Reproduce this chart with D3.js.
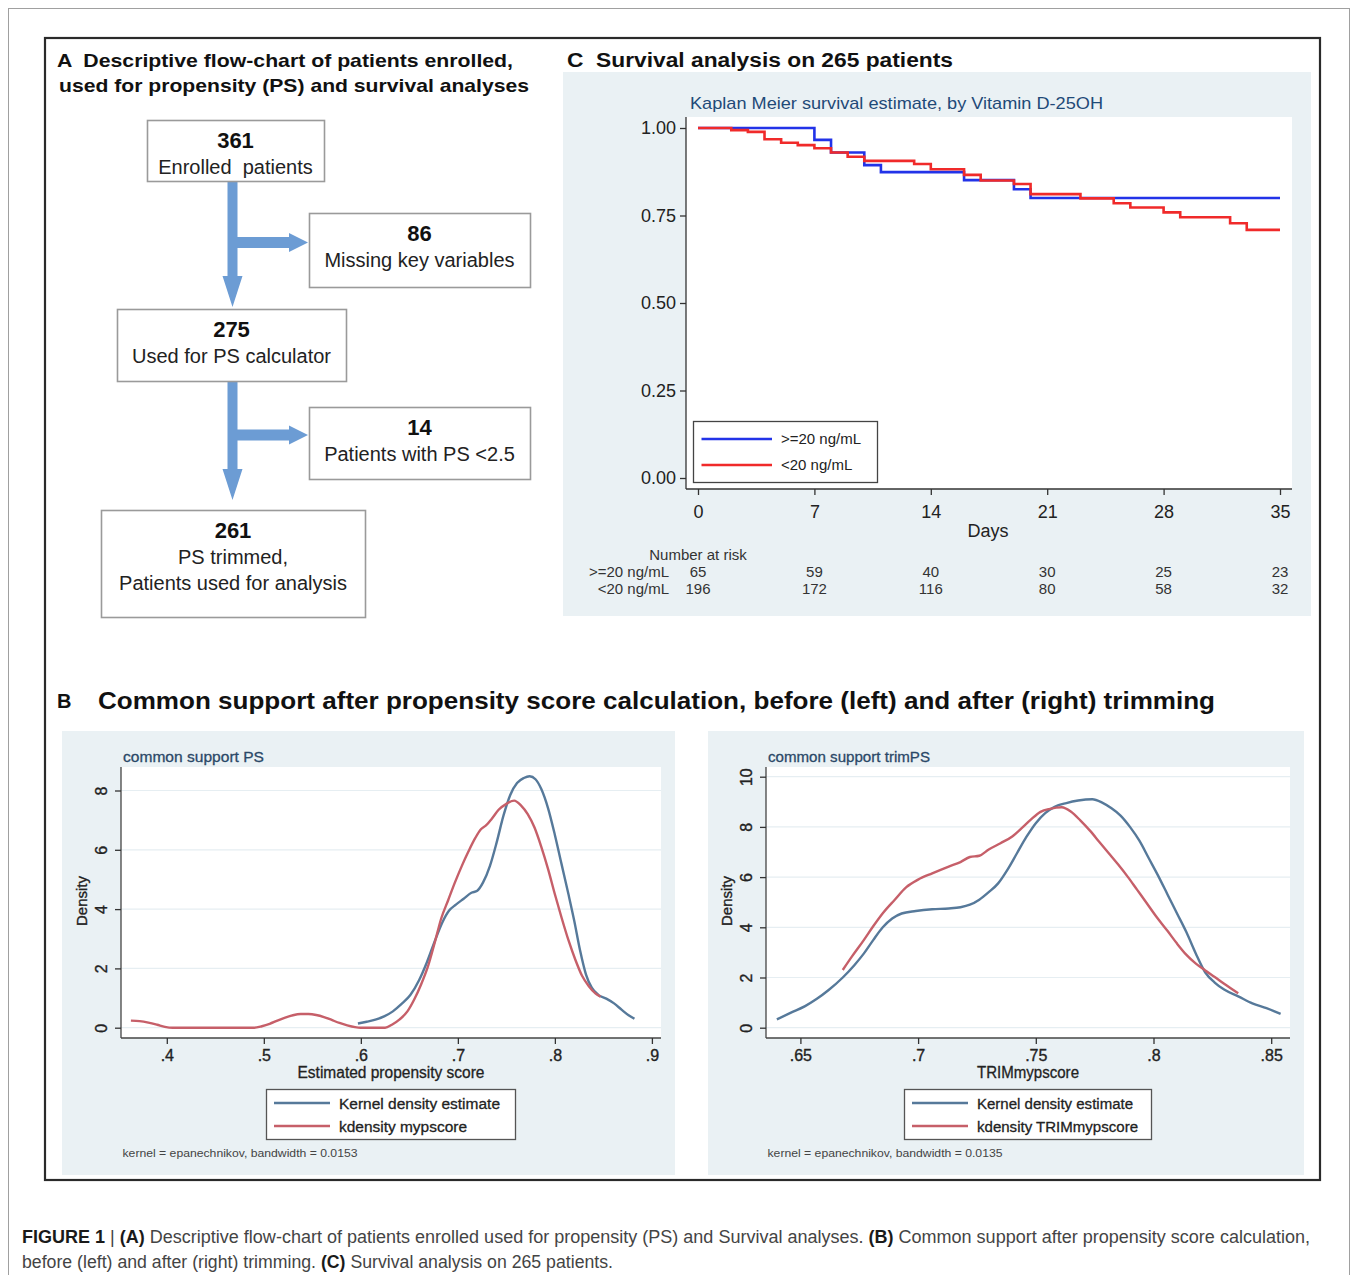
<!DOCTYPE html>
<html>
<head>
<meta charset="utf-8">
<title>Figure 1</title>
<style>
  body { margin: 0; background: #fff; }
  svg { display: block; }
  text { font-family: "Liberation Sans", Arial, Helvetica, sans-serif; }
</style>
</head>
<body>
<svg width="1358" height="1275"></svg>
<script src="https://cdn.jsdelivr.net/npm/d3@7"></script>
<script>
// ---- data ----
const flowCounts = [361, 86, 275, 14, 261]
const flowLabels = [["Enrolled  patients"], ["Missing key variables"], ["Used for PS calculator"],
  ["Patients with PS <2.5"], ["PS trimmed,", "Patients used for analysis"]]

const kmGroups = [">=20 ng/mL", "<20 ng/mL"]
const kmHigh = [[0, 1], [7, 0.966], [8, 0.930], [10, 0.894], [11, 0.874], [16, 0.851], [19, 0.825], [20, 0.80], [35, 0.80]]
const kmLow = [[0, 1], [2, 0.994], [3, 0.989], [4, 0.968], [5, 0.958], [6, 0.951], [7, 0.942], [8, 0.930],
  [9, 0.918], [10, 0.906], [13, 0.897], [14, 0.882], [16, 0.866], [17, 0.850], [19, 0.840], [20, 0.811],
  [23, 0.799], [25, 0.785], [26, 0.773], [28, 0.759], [29, 0.745], [32, 0.728], [33, 0.709], [35, 0.709]]
const kmDays = [0, 7, 14, 21, 28, 35]
const kmSurvTicks = [0, 0.25, 0.5, 0.75, 1]
const riskHigh = [65, 59, 40, 30, 25, 23]
const riskLow = [196, 172, 116, 80, 58, 32]

const psKernel = [[0.597, 0.14], [0.606, 0.2], [0.615, 0.27], [0.624, 0.38], [0.633, 0.55], [0.642, 0.8],
  [0.651, 1.1], [0.66, 1.6], [0.668, 2.2], [0.676, 2.9], [0.684, 3.55], [0.691, 3.95], [0.698, 4.15],
  [0.706, 4.35], [0.714, 4.55], [0.72, 4.62], [0.726, 4.9], [0.733, 5.45], [0.74, 6.25], [0.747, 7.15],
  [0.754, 7.85], [0.761, 8.25], [0.768, 8.42], [0.774, 8.48], [0.78, 8.38], [0.786, 8.05], [0.793, 7.4],
  [0.80, 6.5], [0.807, 5.5], [0.814, 4.5], [0.82, 3.6], [0.826, 2.6], [0.832, 1.8], [0.838, 1.35],
  [0.845, 1.1], [0.853, 0.98], [0.861, 0.82], [0.869, 0.6], [0.876, 0.42], [0.882, 0.3]]
const psScore = [[0.363, 0.24], [0.372, 0.22], [0.381, 0.17], [0.39, 0.1], [0.398, 0.03], [0.406, 0],
  [0.49, 0], [0.498, 0.05], [0.506, 0.13], [0.514, 0.24], [0.522, 0.34], [0.53, 0.42], [0.538, 0.46],
  [0.546, 0.46], [0.554, 0.43], [0.562, 0.36], [0.57, 0.26], [0.578, 0.16], [0.586, 0.08], [0.594, 0.02],
  [0.6, 0], [0.625, 0], [0.632, 0.1], [0.64, 0.28], [0.648, 0.55], [0.655, 0.95], [0.662, 1.45],
  [0.669, 2.05], [0.676, 2.85], [0.683, 3.7], [0.69, 4.3], [0.697, 4.9], [0.704, 5.45], [0.711, 5.95],
  [0.718, 6.4], [0.724, 6.7], [0.729, 6.82], [0.735, 7.05], [0.742, 7.35], [0.75, 7.55], [0.758, 7.66],
  [0.765, 7.5], [0.772, 7.2], [0.779, 6.75], [0.786, 6.1], [0.793, 5.35], [0.80, 4.5], [0.807, 3.7],
  [0.814, 2.95], [0.821, 2.3], [0.828, 1.75], [0.835, 1.4], [0.842, 1.15], [0.847, 1.05]]

const trimKernel = [[0.64, 0.33], [0.646, 0.6], [0.652, 0.86], [0.657, 1.15], [0.662, 1.5], [0.668, 2.0],
  [0.673, 2.5], [0.677, 2.96], [0.681, 3.5], [0.685, 4.0], [0.689, 4.35], [0.693, 4.55], [0.699, 4.65],
  [0.706, 4.72], [0.713, 4.75], [0.718, 4.8], [0.722, 4.9], [0.726, 5.1], [0.73, 5.4], [0.734, 5.75],
  [0.738, 6.3], [0.742, 6.95], [0.746, 7.6], [0.75, 8.15], [0.754, 8.55], [0.758, 8.8], [0.763, 8.95],
  [0.768, 9.05], [0.774, 9.1], [0.778, 8.98], [0.782, 8.75], [0.786, 8.45], [0.79, 8.0], [0.794, 7.45],
  [0.798, 6.75], [0.802, 6.05], [0.806, 5.3], [0.81, 4.55], [0.814, 3.8], [0.818, 2.95], [0.822, 2.2],
  [0.826, 1.8], [0.83, 1.52], [0.836, 1.25], [0.842, 0.97], [0.848, 0.78], [0.854, 0.55]]
const trimScore = [[0.668, 2.3], [0.672, 2.85], [0.677, 3.5], [0.681, 4.05], [0.685, 4.56], [0.69, 5.09],
  [0.695, 5.6], [0.70, 5.9], [0.706, 6.15], [0.713, 6.42], [0.718, 6.6], [0.722, 6.8], [0.726, 6.85],
  [0.73, 7.1], [0.735, 7.35], [0.74, 7.62], [0.744, 7.95], [0.748, 8.3], [0.752, 8.6], [0.756, 8.72],
  [0.761, 8.78], [0.765, 8.6], [0.769, 8.25], [0.773, 7.85], [0.777, 7.4], [0.781, 6.95], [0.785, 6.5],
  [0.789, 6.02], [0.793, 5.5], [0.797, 4.98], [0.801, 4.45], [0.806, 3.85], [0.81, 3.35], [0.814, 2.9],
  [0.818, 2.55], [0.822, 2.28], [0.826, 2.02], [0.83, 1.75], [0.836, 1.37]]

const psTicks = [0.4, 0.5, 0.6, 0.7, 0.8, 0.9]
const psDensTicks = [0, 2, 4, 6, 8]
const trimTicks = [0.65, 0.7, 0.75, 0.8, 0.85]
const trimDensTicks = [0, 2, 4, 6, 8, 10]

// ---- drawing ----
const svg = d3.select("svg")
const stataBg = "#eaf1f4"
const kernelColor = "#56799a"
const scoreColor = "#c65f69"

const txt = (g, x, y, str, o = {}) => {
  const t = g.append("text")
    .attr("x", x).attr("y", y)
    .attr("font-size", o.size || 14)
    .attr("fill", o.color || "#222")
    .attr("text-anchor", o.anchor || "start")
    .attr("xml:space", "preserve")
    .text(str)
  if (o.bold) t.attr("font-weight", "bold")
  if (o.heavy) t.attr("stroke", o.color || "#222").attr("stroke-width", o.heavy)
  if (o.len) t.attr("textLength", o.len).attr("lengthAdjust", "spacingAndGlyphs")
  return t
}

// frames
svg.append("rect").attr("x", 8.5).attr("y", 8.5).attr("width", 1341).attr("height", 1300)
  .attr("fill", "none").attr("stroke", "#a0a0a0")
svg.append("rect").attr("x", 45).attr("y", 38).attr("width", 1275).attr("height", 1142)
  .attr("fill", "none").attr("stroke", "#2a2a2a").attr("stroke-width", 2.2)

// ---- panel A: flow chart ----
const flowBox = [
  {x: 147, y: 120, w: 177, h: 61},
  {x: 309, y: 213, w: 221, h: 74},
  {x: 117, y: 309, w: 229, h: 72},
  {x: 309, y: 407, w: 221, h: 72},
  {x: 101, y: 510, w: 264, h: 107}
]
const flow = svg.append("g")
txt(flow, 57, 67, "A  Descriptive flow-chart of patients enrolled,", {size: 19, bold: true, len: 456, color: "#111"})
txt(flow, 59, 92, "used for propensity (PS) and survival analyses", {size: 19, bold: true, len: 470, color: "#111"})

const arrowColor = "#6c9cd4"
const down = (cx, y0, tip) => `M${cx - 5},${y0}L${cx + 5},${y0}L${cx + 5},${tip - 31}L${cx + 10},${tip - 31}L${cx},${tip}L${cx - 10},${tip - 31}L${cx - 5},${tip - 31}Z`
const right = (x0, cy, tip) => `M${x0},${cy - 5.5}L${tip - 19},${cy - 5.5}L${tip - 19},${cy - 9.5}L${tip},${cy}L${tip - 19},${cy + 9.5}L${tip - 19},${cy + 5.5}L${x0},${cy + 5.5}Z`
const shaftX = 232.5
flow.append("path").attr("d", down(shaftX, 181, 307)).attr("fill", arrowColor)
flow.append("path").attr("d", right(shaftX + 4, 242.5, 308)).attr("fill", arrowColor)
flow.append("path").attr("d", down(shaftX, 381, 500)).attr("fill", arrowColor)
flow.append("path").attr("d", right(shaftX + 4, 435, 308)).attr("fill", arrowColor)

flowBox.forEach((b, i) => {
  flow.append("rect").attr("x", b.x + 0.5).attr("y", b.y + 0.5).attr("width", b.w).attr("height", b.h)
    .attr("fill", "#fff").attr("stroke", "#9a9a9a").attr("stroke-width", 1.6)
  const cx = b.x + b.w / 2
  txt(flow, cx, b.y + 28, flowCounts[i], {size: 22, bold: true, anchor: "middle", color: "#111"})
  flowLabels[i].forEach((line, j) => {
    txt(flow, cx, b.y + 54 + j * 26, line, {size: 20, anchor: "middle", color: "#222"})
  })
})

// ---- panel C: Kaplan-Meier ----
const km = svg.append("g")
txt(km, 567, 67, "C  Survival analysis on 265 patients", {size: 20, bold: true, len: 386, color: "#111"})
km.append("rect").attr("x", 563).attr("y", 72).attr("width", 748).attr("height", 544).attr("fill", stataBg)
km.append("rect").attr("x", 686).attr("y", 117).attr("width", 606).attr("height", 372).attr("fill", "#fff")
txt(km, 690, 109, "Kaplan Meier survival estimate, by Vitamin D-25OH", {size: 17, len: 413, color: "#1f4a78"})

const kx = d3.scaleLinear().domain([0, 35]).range([698, 1280])
const ky = d3.scaleLinear().domain([0, 1]).range([478, 128])

const kmLine = d3.line().x(d => kx(d[0])).y(d => ky(d[1])).curve(d3.curveStepAfter)
km.append("path").datum(kmHigh).attr("d", kmLine).attr("fill", "none").attr("stroke", "#2233e8").attr("stroke-width", 2.6)
km.append("path").datum(kmLow).attr("d", kmLine).attr("fill", "none").attr("stroke", "#f02a2a").attr("stroke-width", 2.6)

km.append("line").attr("x1", 686).attr("x2", 686).attr("y1", 117).attr("y2", 489).attr("stroke", "#333").attr("stroke-width", 1.3)
km.append("line").attr("x1", 686).attr("x2", 1292).attr("y1", 489).attr("y2", 489).attr("stroke", "#333").attr("stroke-width", 1.3)

const styleAxis = (g, size, heavy) => {
  g.select(".domain").remove()
  g.selectAll("line").attr("stroke", "#333").attr("stroke-width", 1.3)
  g.selectAll("text").attr("font-size", size).attr("fill", "#222")
    .attr("font-family", "'Liberation Sans', Arial, sans-serif")
  if (heavy) g.selectAll("text").attr("stroke", "#222").attr("stroke-width", heavy)
}
km.append("g").attr("transform", "translate(686,0)")
  .call(d3.axisLeft(ky).tickValues(kmSurvTicks).tickFormat(d3.format(".2f")).tickSize(6).tickPadding(4))
  .call(g => styleAxis(g, 18))
km.append("g").attr("transform", "translate(0,489)")
  .call(d3.axisBottom(kx).tickValues(kmDays).tickSize(6).tickPadding(10))
  .call(g => styleAxis(g, 18))
txt(km, 988, 537, "Days", {size: 18, anchor: "middle"})

// legend
km.append("rect").attr("x", 693.5).attr("y", 421.5).attr("width", 184).attr("height", 61)
  .attr("fill", "#fff").attr("stroke", "#444").attr("stroke-width", 1.3)
;[["#2233e8", 439], ["#f02a2a", 465]].forEach(([c, y], i) => {
  km.append("line").attr("x1", 701.5).attr("x2", 772).attr("y1", y).attr("y2", y).attr("stroke", c).attr("stroke-width", 2.6)
  txt(km, 781, y + 5, kmGroups[i], {size: 15, color: "#222"})
})

// number at risk
txt(km, 698, 560, "Number at risk", {size: 15, anchor: "middle", color: "#333"})
;[[riskHigh, 577], [riskLow, 594]].forEach(([vals, y], i) => {
  txt(km, 669, y, kmGroups[i], {size: 15, anchor: "end", color: "#333"})
  km.append("g").selectAll("text").data(vals).join("text")
    .attr("x", (d, j) => kx(kmDays[j])).attr("y", y)
    .attr("text-anchor", "middle").attr("font-size", 15).attr("fill", "#333")
    .text(d => d)
})

// ---- panel B: common support ----
const pb = svg.append("g")
txt(pb, 57, 708, "B", {size: 20, bold: true, color: "#111"})
txt(pb, 98, 709, "Common support after propensity score calculation, before (left) and after (right) trimming",
  {size: 24, bold: true, len: 1117, color: "#111"})

const fmtDec = v => String(v).replace(/^0/, "")

const density = cfg => {
  const g = pb.append("g")
  g.append("rect").attr("x", cfg.bg[0]).attr("y", 731).attr("width", cfg.bg[1] - cfg.bg[0]).attr("height", 444).attr("fill", stataBg)
  g.append("rect").attr("x", cfg.plot[0]).attr("y", 767).attr("width", cfg.plot[1] - cfg.plot[0]).attr("height", 271).attr("fill", "#fff")

  const x = d3.scaleLinear().domain(cfg.xDomain).range(cfg.xRange)
  const y = d3.scaleLinear().domain(cfg.yDomain).range([1027.7, cfg.yTop])

  g.append("g").selectAll("line").data(cfg.yTicks).join("line")
    .attr("x1", cfg.plot[0]).attr("x2", cfg.plot[1])
    .attr("y1", d => y(d)).attr("y2", d => y(d))
    .attr("stroke", "#e6eef2").attr("stroke-width", 1.2)

  const line = d3.line().x(d => x(d[0])).y(d => y(d[1])).curve(d3.curveMonotoneX)
  g.append("path").datum(cfg.kernel).attr("d", line).attr("fill", "none").attr("stroke", kernelColor).attr("stroke-width", 2.4)
  g.append("path").datum(cfg.score).attr("d", line).attr("fill", "none").attr("stroke", scoreColor).attr("stroke-width", 2.4)

  g.append("line").attr("x1", cfg.plot[0]).attr("x2", cfg.plot[0]).attr("y1", 767).attr("y2", 1038)
    .attr("stroke", "#444").attr("stroke-width", 1.3)
  g.append("line").attr("x1", cfg.plot[0]).attr("x2", cfg.plot[1]).attr("y1", 1038).attr("y2", 1038)
    .attr("stroke", "#444").attr("stroke-width", 1.3)

  g.append("g").attr("transform", `translate(${cfg.plot[0]},0)`)
    .call(d3.axisLeft(y).tickValues(cfg.yTicks).tickSize(6))
    .call(a => styleAxis(a, 16, 0.35))
    .call(a => a.selectAll("text").attr("x", 0).attr("dy", null)
      .attr("transform", "translate(-14,0) rotate(-90)").attr("text-anchor", "middle"))
  g.append("g").attr("transform", "translate(0,1038)")
    .call(d3.axisBottom(x).tickValues(cfg.xTicks).tickFormat(fmtDec).tickSize(6).tickPadding(6))
    .call(a => styleAxis(a, 16, 0.35))

  txt(g, 0, 0, "Density", {size: 15.5, anchor: "middle", len: 50, color: "#222", heavy: 0.35})
    .attr("transform", `translate(${cfg.plot[0] - 34},901) rotate(-90)`)
  txt(g, cfg.plot[0] + 2, 762, cfg.title, {size: 15, len: cfg.titleLen, color: "#2a4867", heavy: 0.3})
  txt(g, cfg.xLabelX, 1078, cfg.xLabel, {size: 16, anchor: "middle", len: cfg.xLabelLen, color: "#222", heavy: 0.3})

  g.append("rect").attr("x", cfg.legend[0] + 0.5).attr("y", 1089.5).attr("width", cfg.legend[1] - cfg.legend[0]).attr("height", 50)
    .attr("fill", "#fff").attr("stroke", "#555").attr("stroke-width", 1.3)
  ;[[kernelColor, 1103], [scoreColor, 1126]].forEach(([c, yy], i) => {
    g.append("line").attr("x1", cfg.legend[0] + 8).attr("x2", cfg.legend[0] + 64).attr("y1", yy).attr("y2", yy)
      .attr("stroke", c).attr("stroke-width", 2.4)
    txt(g, cfg.legend[0] + 73, yy + 5.5, cfg.legendText[i], {size: 15.5, len: cfg.legendLen[i], color: "#222", heavy: 0.3})
  })
  txt(g, cfg.plot[0] + 1.5, 1157, cfg.note, {size: 11.5, len: 235, color: "#444"})
}

density({
  bg: [62, 675], plot: [121, 661],
  xDomain: [0.4, 0.9], xRange: [166.8, 651.9], xTicks: psTicks,
  yDomain: [0, 8], yTop: 790.5, yTicks: psDensTicks,
  kernel: psKernel, score: psScore,
  title: "common support PS", titleLen: 141,
  xLabel: "Estimated propensity score", xLabelX: 391, xLabelLen: 187,
  legend: [266, 515], legendText: ["Kernel density estimate", "kdensity mypscore"], legendLen: [161, 128],
  note: "kernel = epanechnikov, bandwidth = 0.0153"
})
density({
  bg: [708, 1304], plot: [766, 1290],
  xDomain: [0.65, 0.85], xRange: [800.4, 1271.2], xTicks: trimTicks,
  yDomain: [0, 10], yTop: 776.7, yTicks: trimDensTicks,
  kernel: trimKernel, score: trimScore,
  title: "common support trimPS", titleLen: 162,
  xLabel: "TRIMmypscore", xLabelX: 1028, xLabelLen: 102,
  legend: [904, 1151], legendText: ["Kernel density estimate", "kdensity TRIMmypscore"], legendLen: [156, 161],
  note: "kernel = epanechnikov, bandwidth = 0.0135"
})

// ---- caption ----
const cap = svg.append("g").attr("font-size", 17.5)
const capLine = (y, parts, len) => {
  const t = cap.append("text").attr("x", 22).attr("y", y)
    .attr("textLength", len).attr("lengthAdjust", "spacingAndGlyphs").attr("xml:space", "preserve")
  parts.forEach(([s, b]) => t.append("tspan").text(s)
    .attr("font-weight", b ? "bold" : "normal").attr("fill", b ? "#1a1a1a" : "#444"))
}
capLine(1243, [["FIGURE 1", true], [" | ", false], ["(A)", true],
  [" Descriptive flow-chart of patients enrolled used for propensity (PS) and Survival analyses. ", false],
  ["(B)", true], [" Common support after propensity score calculation,", false]], 1288)
capLine(1268, [["before (left) and after (right) trimming. ", false], ["(C)", true],
  [" Survival analysis on 265 patients.", false]], 591)
</script>
</body>
</html>
